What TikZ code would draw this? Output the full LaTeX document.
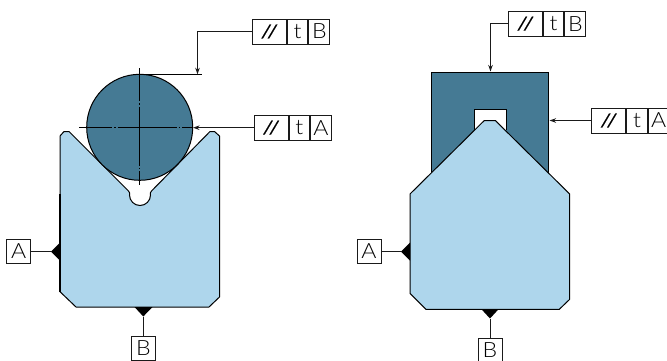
\documentclass[tikz,border=0pt]{standalone}
\usepackage{fontspec}
\setmainfont[FakeStretch=1.1]{Lato Light}
\newfontfamily\symbfont[FakeBold=0.5]{Liberation Sans}
\usetikzlibrary{arrows.meta}
\definecolor{darkpart}{HTML}{457A94}
\definecolor{lightpart}{HTML}{AED6EC}
\definecolor{rule}{HTML}{1A1A1A}
\tikzset{
  x=1pt,y=-1pt,
  cell/.style={draw=rule,line width=1pt,fill=white,inner sep=0pt,minimum height=25pt,font=\fontsize{21}{21}\selectfont,text=black},
  datum/.style={cell,minimum width=24pt,minimum height=24pt},
  part/.style={draw=black,line width=1pt,line join=miter},
  leader/.style={draw=rule,line width=1pt},
  tipped/.style={leader,-{Stealth[length=6.5pt,width=4.5pt]}},
  centerline/.style={draw=black,line width=1pt,dash pattern=on 33pt off 2pt on 1.5pt off 2pt on 59pt off 2pt on 1.5pt off 2pt on 14pt},
  paralsign/.style={inner sep=0pt,font=\symbfont\fontsize{19}{19}\selectfont,text=black,transform shape,xslant=0.32}
}
\newcommand{\fcf}[4]{% name, left x, centre y, letter
  \node[cell,minimum width=34.2pt] (#1p) at (#2+17.1,#3) {};
  \node[paralsign] (#1s) at (#1p.center) {/\kern1pt/};
  \node[cell,minimum width=20.4pt,anchor=west] (#1t) at (#1p.east) {t};
  \node[cell,minimum width=20.8pt,anchor=west] (#1d) at (#1t.east) {#4};
}
\begin{document}
\begin{tikzpicture}
\useasboundingbox (0,0) rectangle (667,360);
% left: V block
\draw[part,fill=lightpart] (60,136) -- (64,131.5) -- (69,131.5) -- (128.5,191) .. controls (130,192.5) and (129.5,193) .. (129.5,195)
  arc[start angle=180,end angle=0,radius=10.5] .. controls (150.5,193) and (150,192.5) .. (151.5,191) -- (210,131.5) -- (214.5,131.5) -- (219.5,136)
  -- (219.5,297) -- (209,307) -- (76,307) -- (60,291.7) -- cycle;
\draw[black,line width=1.8pt] (60,194) -- (60,291.7);
\coordinate (cc) at (139.7,127.3);
\draw[part,fill=darkpart] (cc) circle[radius=53];
\draw[centerline] (79,127.3) -- (193,127.3);
\draw[centerline] (139.7,68) -- (139.7,185);
\coordinate (ctop) at (139.7,74.3);
\coordinate (cext) at (202,74.3);
\draw[black,line width=1pt] (ctop) -- (cext);
% right: block and pentagon
\draw[part,fill=darkpart] (431.7,175) -- (431.7,72) -- (548.3,72) -- (548.3,175);
\draw[part,fill=white] (474,130) -- (474,109.5) -- (506,109.5) -- (506,130);
\draw[part,fill=lightpart] (484.3,120.5) -- (495.3,120.5) -- (569.7,194) -- (569.7,299.3) -- (559.3,309.3)
  -- (426,309.3) -- (410,293.3) -- (410,194) -- cycle;
% feature control frames
\fcf{ta}{252.3}{31.5}{B}
\fcf{tb}{254}{127.7}{A}
\fcf{ra}{508.3}{23.7}{B}
\fcf{rb}{591.7}{120.5}{A}
% leaders
\coordinate (tahit) at (197.5,74.3);
\coordinate (tbhit) at (193,127.7);
\coordinate (rahit) at (490.5,71.5);
\coordinate (rbhit) at (549.5,120.5);
\draw[tipped] (tap.west) -| (tahit);
\draw[tipped] (tbp.west) -- (tbhit);
\draw[tipped] (rap.west) -| (rahit);
\draw[tipped] (rbp.west) -- (rbhit);
% datums
\node[datum] (la) at (18.7,251.5) {A};
\node[datum] (lb) at (143.3,348.4) {B};
\node[datum] (ra) at (369,251.5) {A};
\node[datum,minimum height=22.4pt] (rb) at (490,349.8) {B};
\coordinate (lat) at (51,251.5);
\coordinate (lbt) at (143.3,316.5);
\coordinate (rat) at (401,251.5);
\coordinate (rbt) at (490,318.5);
\draw[leader] (la) -- (lat);
\draw[leader] (lb) -- (lbt);
\draw[leader] (ra) -- (rat);
\draw[leader] (rb) -- (rbt);
\fill[black] (lat) -- (60,242.5) -- (60,260.5) -- cycle;
\fill[black] (lbt) -- (134.5,307) -- (152.5,307) -- cycle;
\fill[black] (rat) -- (410,242.5) -- (410,260.5) -- cycle;
\fill[black] (rbt) -- (481.5,309.3) -- (498.5,309.3) -- cycle;
\end{tikzpicture}
\end{document}
